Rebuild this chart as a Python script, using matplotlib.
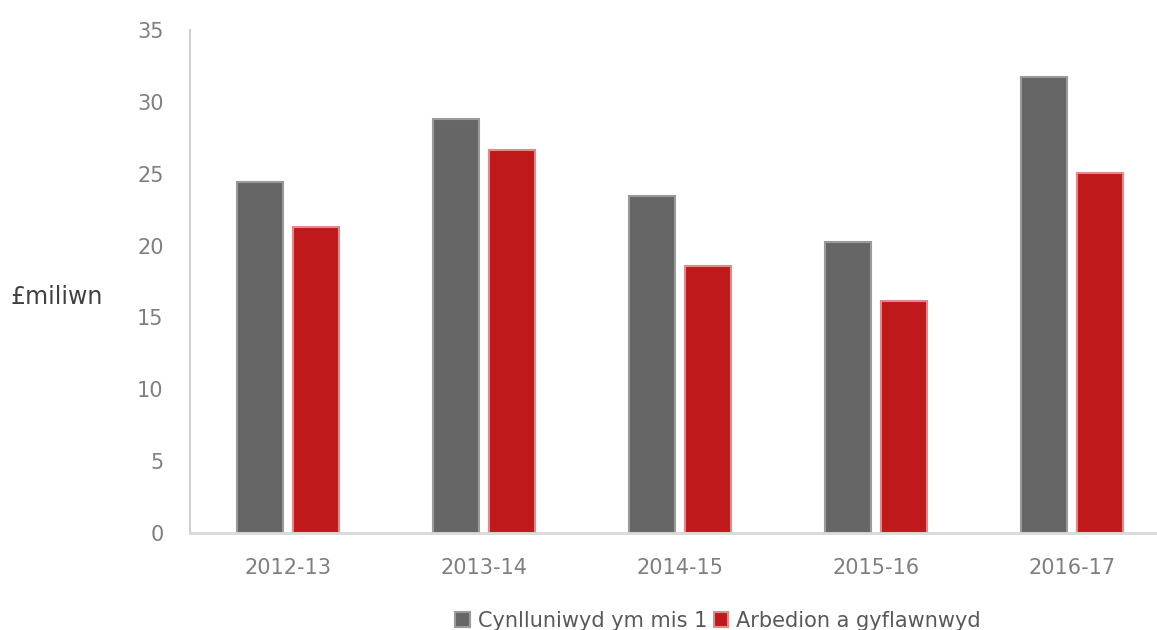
import matplotlib
matplotlib.use('Agg')
import matplotlib.pyplot as plt
import numpy as np

# Data
years = ['2012-13', '2013-14', '2014-15', '2015-16', '2016-17']
planned = [24.4, 28.8, 23.45, 20.25, 31.7]
achieved = [21.3, 26.65, 18.6, 16.15, 25.05]
series_names = ['Cynlluniwyd ym mis 1', 'Arbedion a gyflawnwyd']

grey = '#666666'
red = '#c0191b'

fig = plt.figure(figsize=(11.57, 6.30), dpi=100)
ax = fig.add_axes([190 / 1157, 97 / 630, 980 / 1157, 503 / 630])

x = np.arange(len(years))
w = 0.23
off = 0.143
ax.bar(x - off, planned, width=w, color=grey, edgecolor='#9a9a9a',
       linewidth=1.5, label=series_names[0])
ax.bar(x + off, achieved, width=w, color=red, edgecolor='#e08a8b',
       linewidth=1.5, label=series_names[1])

ax.set_xlim(-0.5, 4.5)
ax.set_ylim(0, 35)
ax.set_yticks(range(0, 36, 5))
ax.set_xticks(x)
ax.set_xticklabels(years)

for s in ['top', 'right']:
    ax.spines[s].set_visible(False)
ax.spines['left'].set_color('#d0d0d0')
ax.spines['bottom'].set_color('#d9d9d9')
ax.spines['left'].set_linewidth(1.5)
ax.spines['bottom'].set_linewidth(2)
ax.tick_params(axis='both', length=0, labelsize=15, colors='#7f7f7f')
ax.tick_params(axis='y', pad=19)
ax.tick_params(axis='x', pad=18)

fig.text(10 / 1157, 1 - 297 / 630, '£miliwn', fontsize=17, color='#404040',
         ha='left', va='center')

fig.legend(loc='center', bbox_to_anchor=(718 / 1157, 9 / 630), ncol=2,
           frameon=False, fontsize=15, handlelength=0.7, handleheight=0.7,
           handletextpad=0.4, columnspacing=0.3, labelcolor='#595959')

plt.savefig('out.png', dpi=100)
plt.close(fig)
